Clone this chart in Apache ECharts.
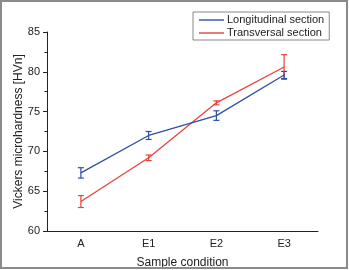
<!DOCTYPE html>
<html><head><meta charset="utf-8">
<script src="https://cdn.jsdelivr.net/npm/echarts@6/dist/echarts.min.js"></script>
<style>html,body{margin:0;padding:0;background:#fff}#c{width:349px;height:270px}</style>
</head><body><div id="c"></div>
<script>
var categories = ['A', 'E1', 'E2', 'E3'];
var longValues = [67.3, 72.0, 74.5, 79.6];
var longErrors = [0.65, 0.5, 0.6, 0.45];
var transValues = [63.7, 69.2, 76.1, 80.6];
var transErrors = [0.75, 0.35, 0.25, 1.55];
var yTicks = [60, 65, 70, 75, 80, 85];

var blue = '#2f4fa6', red = '#e8433b';
var FONT = 'Liberation Sans, Arial, sans-serif';

function errSeries(name, vals, errs, color, z) {
  return {
    type: 'custom', name: name + ' err', z: z, silent: true,
    data: vals.map(function (v, i) { return [i, v - errs[i], v + errs[i]]; }),
    renderItem: function (params, api) {
      var lo = api.coord([api.value(0), api.value(1)]);
      var hi = api.coord([api.value(0), api.value(2)]);
      var w = 3;
      var st = { stroke: color, lineWidth: 1.2, fill: 'none' };
      return { type: 'group', children: [
        { type: 'line', shape: { x1: lo[0], y1: lo[1], x2: hi[0], y2: hi[1] }, style: st },
        { type: 'line', shape: { x1: lo[0] - w, y1: lo[1], x2: lo[0] + w, y2: lo[1] }, style: st },
        { type: 'line', shape: { x1: hi[0] - w, y1: hi[1], x2: hi[0] + w, y2: hi[1] }, style: st }
      ]};
    },
    encode: { x: 0, y: [1, 2] }
  };
}

var chart = echarts.init(document.getElementById('c'), null, { renderer: 'canvas' });
chart.setOption({
  animation: false,
  textStyle: { fontFamily: FONT },
  graphic: [{ type: 'rect', shape: { x: 1, y: 1, width: 346, height: 267 },
    style: { fill: 'none', stroke: '#8a8a8a', lineWidth: 2 }, z: 100 }],
  grid: { left: 47, right: 31, top: 32, bottom: 39, containLabel: false, outerBoundsMode: 'none' },
  legend: {
    orient: 'vertical', left: 193, top: 12,
    data: ['Longitudinal section', 'Transversal section'],
    icon: 'rect',
    itemWidth: 25, itemHeight: 1.4, itemGap: 1,
    padding: [2, 5, 1, 6],
    borderColor: '#888', borderWidth: 1, borderRadius: 0,
    textStyle: { fontFamily: FONT, fontSize: 11, color: '#222', lineHeight: 12, padding: [0, 0, 0, -2] }
  },
  xAxis: [{
    type: 'category', data: categories, boundaryGap: true,
    name: 'Sample condition', nameLocation: 'middle', nameGap: 26, nameMoveOverlap: false,
    nameTextStyle: { fontFamily: FONT, fontSize: 12, color: '#222' },
    axisLine: { lineStyle: { color: '#222', width: 1 } },
    axisTick: { alignWithLabel: true, length: 4, lineStyle: { color: '#222' } },
    axisLabel: { fontFamily: FONT, fontSize: 11, color: '#222', margin: 7 },
    splitLine: { show: false }
  }, {
    type: 'category', data: categories, boundaryGap: true, position: 'bottom',
    axisLine: { show: false },
    axisTick: { alignWithLabel: false, length: 2.5, lineStyle: { color: '#222' } },
    axisLabel: { show: false }, splitLine: { show: false }
  }],
  yAxis: {
    type: 'value', min: yTicks[0], max: yTicks[yTicks.length - 1], interval: 5,
    name: 'Vickers microhardness [HVn]', nameLocation: 'middle', nameGap: 22, nameMoveOverlap: false,
    nameTextStyle: { fontFamily: FONT, fontSize: 12, color: '#222' },
    axisLine: { show: true, lineStyle: { color: '#222', width: 1 } },
    axisTick: { show: true, length: 4, lineStyle: { color: '#222' } },
    minorTick: { show: true, splitNumber: 2, length: 2.5, lineStyle: { color: '#222' } },
    axisLabel: { fontFamily: FONT, fontSize: 11, color: '#222', margin: 7 },
    splitLine: { show: false }
  },
  series: [
    { type: 'line', name: 'Transversal section', data: transValues, symbol: 'none',
      lineStyle: { color: red, width: 1.3 }, itemStyle: { color: red }, z: 2 },
    errSeries('Transversal section', transValues, transErrors, red, 3),
    { type: 'line', name: 'Longitudinal section', data: longValues, symbol: 'none',
      lineStyle: { color: blue, width: 1.3 }, itemStyle: { color: blue }, z: 4 },
    errSeries('Longitudinal section', longValues, longErrors, blue, 5)
  ]
});
</script></body></html>
